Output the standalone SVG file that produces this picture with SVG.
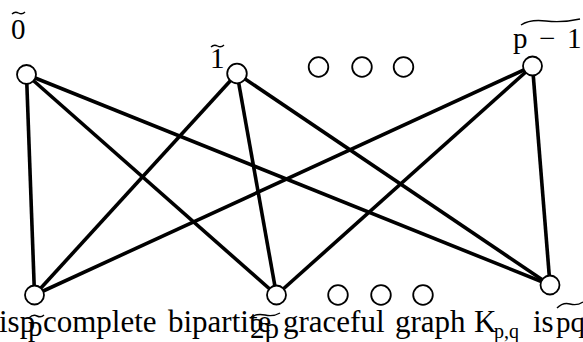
<svg xmlns="http://www.w3.org/2000/svg" width="583" height="342" viewBox="0 0 583 342">
  <style>
    .edge { stroke: #000; stroke-width: 3.6; fill: none; }
    .node { fill: #fff; stroke: #000; stroke-width: 1.8; }
    text { font-family: 'Liberation Serif', 'DejaVu Serif', serif; fill: #000; }
    .lbl { font-size: 29px; }
    .txt { font-size: 31px; }
    .sub { font-size: 20px; }
    .wt { stroke: #000; stroke-width: 1.4; fill: none; }
  </style>

  <!-- complete bipartite connections -->
  <g id="connectors">
    <line class="edge" x1="26.5" y1="74.5" x2="34.5" y2="295"/>
    <line class="edge" x1="26.5" y1="74.5" x2="276.5" y2="295"/>
    <line class="edge" x1="26.5" y1="74.5" x2="550" y2="285"/>
    <line class="edge" x1="237" y1="73.5" x2="34.5" y2="295"/>
    <line class="edge" x1="237" y1="73.5" x2="276.5" y2="295"/>
    <line class="edge" x1="237" y1="73.5" x2="550" y2="285"/>
    <line class="edge" x1="532.5" y1="66" x2="34.5" y2="295"/>
    <line class="edge" x1="532.5" y1="66" x2="276.5" y2="295"/>
    <line class="edge" x1="532.5" y1="66" x2="550" y2="285"/>
  </g>

  <!-- top row -->
  <g id="top0">
    <circle class="node" cx="26.5" cy="74.5" r="9.5"/>
    <text class="lbl" x="11" y="39">0</text>
    <path class="wt" d="M12 14 Q15 11 18.5 13 Q22 15 25 12"/>
  </g>
  <g id="top1">
    <circle class="node" cx="237" cy="73.5" r="9.8"/>
    <text class="lbl" x="210" y="68">1</text>
    <path class="wt" d="M211 47 Q214 44 217.5 46 Q221 48 224 45"/>
  </g>
  <g id="topDots">
    <circle class="node" cx="318.5" cy="67" r="9.8"/>
    <circle class="node" cx="362" cy="67" r="9.8"/>
    <circle class="node" cx="403.5" cy="67" r="9.8"/>
  </g>
  <g id="topLast">
    <circle class="node" cx="532.5" cy="66" r="9.5"/>
    <text class="lbl" y="48"><tspan x="513">p</tspan><tspan x="539">−</tspan><tspan x="567">1</tspan></text>
    <path class="wt" d="M521 25 Q530 19 546 21 Q562 23 580 19"/>
  </g>

  <!-- bottom row -->
  <g id="bot0">
    <circle class="node" cx="34.5" cy="295" r="9.5"/>
  </g>
  <g id="bot1">
    <circle class="node" cx="276.5" cy="295" r="9.5"/>
  </g>
  <g id="botDots">
    <circle class="node" cx="338" cy="295" r="9.8"/>
    <circle class="node" cx="381" cy="295" r="9.8"/>
    <circle class="node" cx="423" cy="295" r="9.8"/>
  </g>
  <g id="botLast">
    <circle class="node" cx="550" cy="285" r="9.5"/>
  </g>

  <!-- caption line with overlapping node labels -->
  <g id="caption">
    <text class="txt" y="332"><tspan x="-1">isp</tspan><tspan x="43">complete</tspan><tspan x="168">bipartite</tspan><tspan x="283">graceful</tspan><tspan x="395">graph</tspan><tspan x="474">K</tspan></text>
    <text class="sub" x="494" y="338">p,q</text>
    <text class="txt" x="533" y="332">is</text>
    <text class="lbl" x="28" y="336">p</text>
    <path class="wt" d="M29 318 Q33 314 37 316 Q41 318 44 315"/>
    <text class="lbl" x="250" y="338">2p</text>
    <path class="wt" d="M250 318 Q256 313 265 315 Q273 317 280 313"/>
    <text class="lbl" x="556" y="332">pq</text>
    <path class="wt" d="M557 308 Q563 302 570 304 Q577 306 583 302"/>
  </g>
</svg>
